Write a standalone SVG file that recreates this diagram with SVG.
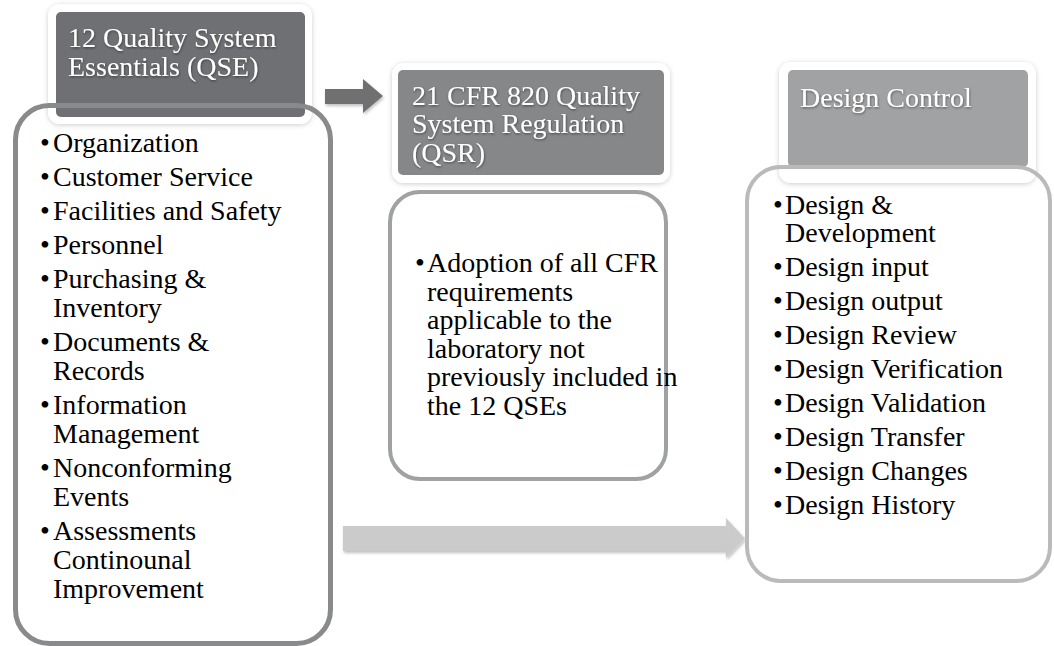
<svg xmlns="http://www.w3.org/2000/svg" width="1054" height="646" viewBox="0 0 1054 646">
  <defs>
    <filter id="halo" x="-10%" y="-10%" width="120%" height="125%">
      <feDropShadow dx="0" dy="1" stdDeviation="2.5" flood-color="#000" flood-opacity="0.2"/>
    </filter>
    <filter id="txtShadow" x="-5%" y="-20%" width="110%" height="150%">
      <feDropShadow dx="0.6" dy="1.2" stdDeviation="0.8" flood-color="#000" flood-opacity="0.45"/>
    </filter>
    <filter id="arrowShadow" x="-5%" y="-20%" width="110%" height="160%">
      <feDropShadow dx="1" dy="2" stdDeviation="1.5" flood-color="#000" flood-opacity="0.25"/>
    </filter>
  </defs>
  <style>
    .title { font-family: "Liberation Serif", "Times New Roman", serif; font-size: 28px; fill: #ffffff; }
    .item { font-family: "Liberation Serif", "Times New Roman", serif; font-size: 28px; fill: #000000; }
    .halo { fill: #ffffff; filter: url(#halo); }
    .body { fill: #ffffff; }
  </style>

  <rect width="1054" height="646" fill="#ffffff"/>

  <!-- connectors -->
  <g id="connectors">
    <polygon points="325,89 363,89 363,79 383,96 363,113 363,104 325,104" fill="#6f7073" filter="url(#arrowShadow)"/>
    <polygon points="343,526 726,526 726,518 745,538.5 726,558 726,551 343,551" fill="#cbcbcb" filter="url(#arrowShadow)"/>
  </g>

  <!-- QSE column -->
  <g id="qse">
    <rect class="body" x="15.5" y="105.5" width="315" height="538" rx="34"/>
    <rect class="halo" x="48" y="4" width="264" height="120" rx="12"/>
    <rect x="56" y="12" width="249" height="105" rx="5" fill="#6f7073"/>
    <rect x="15.5" y="105.5" width="315" height="538" rx="34" fill="none" stroke="#898a8c" stroke-width="5"/>
    <g class="title" filter="url(#txtShadow)">
      <text x="68" y="47">12 Quality System</text>
      <text x="68" y="76">Essentials (QSE)</text>
    </g>
    <g class="item">
      <text y="152"><tspan x="40">•</tspan><tspan x="53">Organization</tspan></text>
      <text y="186"><tspan x="40">•</tspan><tspan x="53">Customer Service</tspan></text>
      <text y="220"><tspan x="40">•</tspan><tspan x="53">Facilities and Safety</tspan></text>
      <text y="254"><tspan x="40">•</tspan><tspan x="53">Personnel</tspan></text>
      <text y="288"><tspan x="40">•</tspan><tspan x="53">Purchasing &amp;</tspan></text>
      <text x="53" y="317">Inventory</text>
      <text y="351"><tspan x="40">•</tspan><tspan x="53">Documents &amp;</tspan></text>
      <text x="53" y="380">Records</text>
      <text y="414"><tspan x="40">•</tspan><tspan x="53">Information</tspan></text>
      <text x="53" y="443">Management</text>
      <text y="477"><tspan x="40">•</tspan><tspan x="53">Nonconforming</tspan></text>
      <text x="53" y="506">Events</text>
      <text y="540"><tspan x="40">•</tspan><tspan x="53">Assessments</tspan></text>
      <text x="53" y="569">Continounal</text>
      <text x="53" y="598">Improvement</text>
    </g>
  </g>

  <!-- QSR column -->
  <g id="qsr">
    <rect class="body" x="390" y="192" width="276" height="287" rx="30"/>
    <rect class="halo" x="392" y="63" width="278" height="120" rx="12"/>
    <rect x="398" y="70" width="266" height="105" rx="5" fill="#868789"/>
    <rect x="390" y="192" width="276" height="287" rx="30" fill="none" stroke="#a0a1a3" stroke-width="4"/>
    <g class="title" filter="url(#txtShadow)">
      <text x="412" y="105">21 CFR 820 Quality</text>
      <text x="412" y="133">System Regulation</text>
      <text x="412" y="162">(QSR)</text>
    </g>
    <g class="item">
      <text y="272"><tspan x="415">•</tspan><tspan x="427">Adoption of all CFR</tspan></text>
      <text x="427" y="301">requirements</text>
      <text x="427" y="329">applicable to the</text>
      <text x="427" y="358">laboratory not</text>
      <text x="427" y="386">previously included in</text>
      <text x="427" y="415">the 12 QSEs</text>
    </g>
  </g>

  <!-- Design Control column -->
  <g id="design-control">
    <rect class="body" x="747" y="167" width="303" height="414" rx="34"/>
    <rect class="halo" x="779" y="62" width="257" height="121" rx="12"/>
    <rect x="788" y="70" width="240" height="97" rx="5" fill="#a1a2a4"/>
    <rect x="747" y="167" width="303" height="414" rx="34" fill="none" stroke="#bababa" stroke-width="4"/>
    <g class="title" filter="url(#txtShadow)">
      <text x="800" y="107">Design Control</text>
    </g>
    <g class="item">
      <text y="214"><tspan x="773">•</tspan><tspan x="785">Design &amp;</tspan></text>
      <text x="785" y="242">Development</text>
      <text y="276"><tspan x="773">•</tspan><tspan x="785">Design input</tspan></text>
      <text y="310"><tspan x="773">•</tspan><tspan x="785">Design output</tspan></text>
      <text y="344"><tspan x="773">•</tspan><tspan x="785">Design Review</tspan></text>
      <text y="378"><tspan x="773">•</tspan><tspan x="785">Design Verification</tspan></text>
      <text y="412"><tspan x="773">•</tspan><tspan x="785">Design Validation</tspan></text>
      <text y="446"><tspan x="773">•</tspan><tspan x="785">Design Transfer</tspan></text>
      <text y="480"><tspan x="773">•</tspan><tspan x="785">Design Changes</tspan></text>
      <text y="514"><tspan x="773">•</tspan><tspan x="785">Design History</tspan></text>
    </g>
  </g>
</svg>
